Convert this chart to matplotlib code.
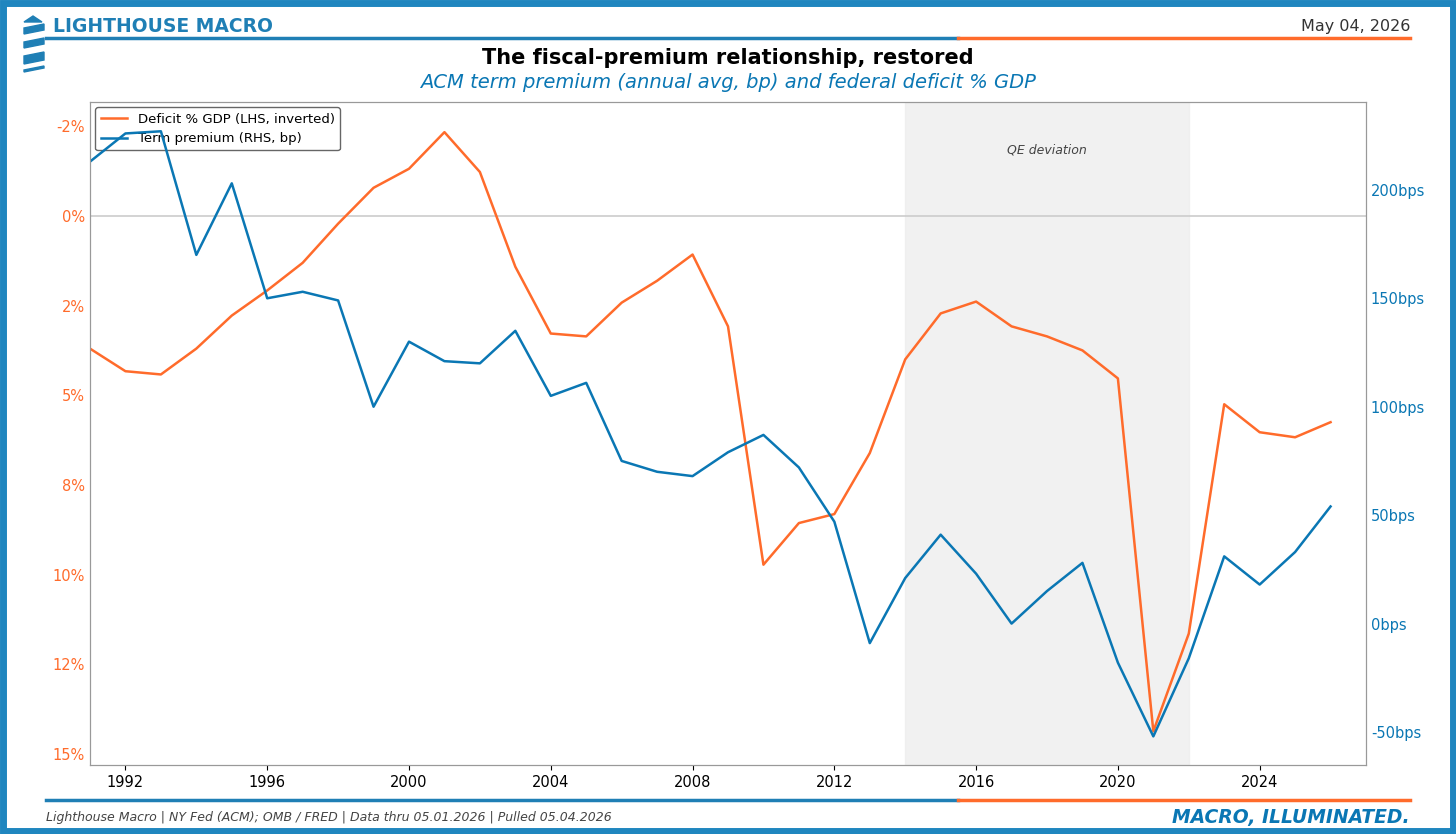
import matplotlib
matplotlib.use("Agg")
import matplotlib.pyplot as plt
from matplotlib.ticker import FuncFormatter, FixedLocator
from matplotlib.patches import Rectangle, Polygon

years = list(range(1991, 2027))
deficit = [3.7, 4.33, 4.42, 3.7, 2.78, 2.08, 1.31, 0.22, -0.78, -1.31, -2.33, -1.22, 1.42, 3.28,
           3.36, 2.42, 1.81, 1.08, 3.08, 9.72, 8.56, 8.31, 6.61, 4.0, 2.72, 2.39, 3.08, 3.36,
           3.75, 4.53, 14.36, 11.64, 5.25, 6.03, 6.17, 5.75]
term_premium = [213, 226, 227, 170, 203, 150, 153, 149, 100, 130, 121, 120, 135, 105, 111, 75,
                70, 68, 79, 87, 72, 47, -9, 21, 41, 23, 0, 15, 28, -18, -52, -16, 31, 18, 33, 54]
left_ticks = [-2.5, 0, 2.5, 5, 7.5, 10, 12.5, 15]
right_ticks = [-50, 0, 50, 100, 150, 200]

BLUE = "#0a77b4"
ORANGE = "#ff6b2b"
fig = plt.figure(figsize=(14.56, 8.34), dpi=100)

fig.patches.append(Rectangle((0.002, 0.003), 0.996, 0.994, transform=fig.transFigure,
                             fill=False, edgecolor="#1f86bf", linewidth=5))
for y in (1 - 38/834, 1 - 800/834):
    fig.add_artist(plt.Line2D([46/1456, 958/1456], [y, y], color="#1f7fb5", lw=2.5, transform=fig.transFigure))
    fig.add_artist(plt.Line2D([958/1456, 1410/1456], [y, y], color=ORANGE, lw=2.5, transform=fig.transFigure))
fig.patches.append(Polygon([(24/1456, 1-22/834), (33/1456, 1-16/834), (42/1456, 1-22/834)],
                           closed=True, transform=fig.transFigure, color="#1f7fb5"))
for (y0, y1) in [(24, 34), (38, 48), (52, 64), (66, 72)]:
    fig.patches.append(Polygon([(24/1456, 1-y1/834), (44/1456, 1-(y1-4)/834), (44/1456, 1-y0/834), (24/1456, 1-(y0+4)/834)],
                               closed=True, transform=fig.transFigure, color="#1f7fb5"))

fig.text(53/1456, 1-27/834, "LIGHTHOUSE MACRO", color="#1f7fb5", fontsize=13.5, fontweight="bold", va="center")
fig.text(1410/1456, 1-26/834, "May 04, 2026", color="#333333", fontsize=11.5, ha="right", va="center")
fig.text(0.5, 1-58/834, "The fiscal-premium relationship, restored", fontsize=15, fontweight="bold", ha="center", va="center")
fig.text(0.5, 1-83/834, "ACM term premium (annual avg, bp) and federal deficit % GDP", fontsize=14,
         style="italic", color=BLUE, ha="center", va="center")
fig.text(46/1456, 1-818/834, "Lighthouse Macro | NY Fed (ACM); OMB / FRED | Data thru 05.01.2026 | Pulled 05.04.2026",
         fontsize=9, style="italic", color="#444444", va="center")
fig.text(1410/1456, 1-818/834, "MACRO, ILLUMINATED.", fontsize=13.5, style="italic", fontweight="bold",
         color=BLUE, ha="right", va="center")

ax = fig.add_axes([90/1456, 1-765/834, (1366-90)/1456, (765-102)/834])
ax2 = ax.twinx()
ax.axvspan(2014, 2022, color="#ececec", alpha=0.7, zorder=0)
ax.text(2018, -1.83, "QE deviation", fontsize=9, style="italic", color="#444444", ha="center", va="center")
ax.axhline(0, color="#cccccc", lw=1.2, zorder=1)
l1, = ax.plot(years, deficit, color=ORANGE, lw=1.8, label="Deficit % GDP (LHS, inverted)")
l2, = ax2.plot(years, term_premium, color=BLUE, lw=1.8, label="Term premium (RHS, bp)")
ax.set_xlim(1991, 2027)
ax.set_ylim(15.3, -3.17)
ax2.set_ylim(-65.2, 240.5)
ax.yaxis.set_major_locator(FixedLocator(left_ticks))
ax.yaxis.set_major_formatter(FuncFormatter(lambda v, p: f"{v:.0f}%"))
ax2.yaxis.set_major_locator(FixedLocator(right_ticks))
ax2.yaxis.set_major_formatter(FuncFormatter(lambda v, p: f"{v:.0f}bps"))
ax.set_xticks(range(1992, 2027, 4))
ax.tick_params(axis="y", colors=ORANGE, labelsize=10.5, length=0)
ax2.tick_params(axis="y", colors=BLUE, labelsize=10.5, length=0)
ax.tick_params(axis="x", labelsize=10.5)
for a in (ax, ax2):
    for s in a.spines.values():
        s.set_color("#999999")
ax.legend(handles=[l1, l2], loc="upper left", fontsize=9.5, framealpha=0.9, edgecolor="#555555",
          borderaxespad=0.4)
fig.savefig("out.png", dpi=100)
